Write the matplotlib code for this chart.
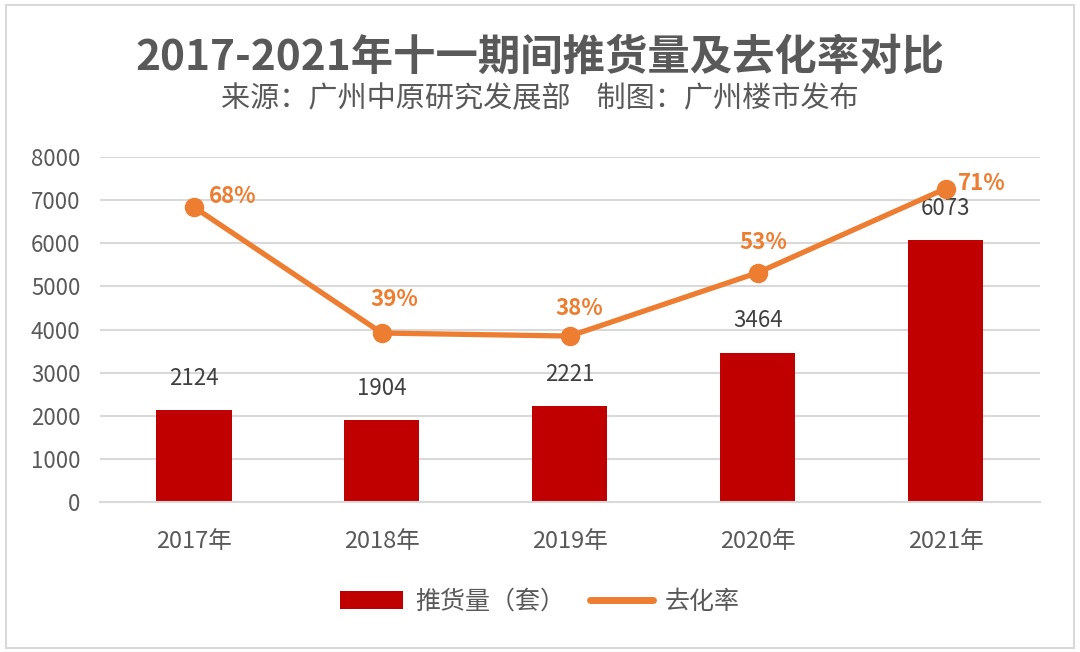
import matplotlib
matplotlib.use('Agg')
import matplotlib.pyplot as plt
from matplotlib.patches import Rectangle
from matplotlib.lines import Line2D
import numpy as np

plt.rcParams['font.family'] = ['Noto Sans CJK SC', 'DejaVu Sans']

years = ['2017年', '2018年', '2019年', '2020年', '2021年']
supply = [2124, 1904, 2221, 3464, 6073]
rate = [0.684, 0.392, 0.385, 0.532, 0.727]
rate_labels = ['68%', '39%', '38%', '53%', '71%']

red = '#C00000'
orange = '#ED7D31'
grey_text = '#595959'

fig = plt.figure(figsize=(10.8, 6.52), dpi=100)
fig.patch.set_facecolor('white')
fig.patches.append(Rectangle((0.006, 0.006), 0.988, 0.987, transform=fig.transFigure,
                             fill=False, edgecolor='#d9d9d9', lw=1.5))

fig.text(0.5, 0.912, '2017-2021年十一期间推货量及去化率对比', ha='center', va='center',
         fontsize=30.5, fontweight='bold', color=grey_text)
fig.text(0.5, 0.848, '来源：广州中原研究发展部    制图：广州楼市发布', ha='center', va='center',
         fontsize=21, color=grey_text)

ax = fig.add_axes([0.0926, 0.230, 0.870, 0.529])
x = np.arange(len(years))
ax.bar(x, supply, width=0.4, color=red, zorder=2, label='推货量（套）')
ax.set_ylim(0, 8000)
ax.set_xlim(-0.5, len(years) - 0.5)
ax.set_yticks(range(0, 8001, 1000))
ax.grid(axis='y', color='#d9d9d9', lw=1.5, zorder=0)
for s in ['top', 'right', 'left']:
  ax.spines[s].set_visible(False)
ax.spines['bottom'].set_color('#d9d9d9')
ax.spines['bottom'].set_linewidth(1.5)
ax.tick_params(length=0)
ax.tick_params(axis='y', labelsize=16, labelcolor=grey_text, pad=14)
ax.tick_params(axis='x', labelsize=17, labelcolor=grey_text, pad=20)
ax.set_xticks(x)
ax.set_xticklabels(years)

for xi, v in zip(x, supply):
  ax.annotate(str(v), (xi, v), xytext=(0, 23), textcoords='offset points',
              ha='center', va='center', fontsize=16, color='#404040')

ax2 = ax.twinx()
ax2.set_ylim(0, 0.8)
ax2.axis('off')
ax2.plot(x, rate, color=orange, lw=3.8, marker='o', markersize=13, zorder=3,
         solid_capstyle='round', label='去化率')
offsets = [(28, 8), (9, 24), (7, 20), (4, 22), (26, 4)]
for xi, v, lab, off in zip(x, rate, rate_labels, offsets):
  ax2.annotate(lab, (xi, v), xytext=off, textcoords='offset points',
               ha='center', va='center', fontsize=16, fontweight='bold', color=orange)

h1, l1 = ax.get_legend_handles_labels()
h2 = [Line2D([0], [0], color=orange, lw=5, solid_capstyle='round')]
fig.legend(h1 + h2, l1 + ['去化率'], loc='center', bbox_to_anchor=(0.5, 0.077), ncol=2,
           frameon=False, fontsize=18, labelcolor=grey_text, handlelength=2.5,
           handleheight=0.7, columnspacing=1.0, handletextpad=0.5)

fig.savefig('out.png', dpi=100, facecolor='white')
